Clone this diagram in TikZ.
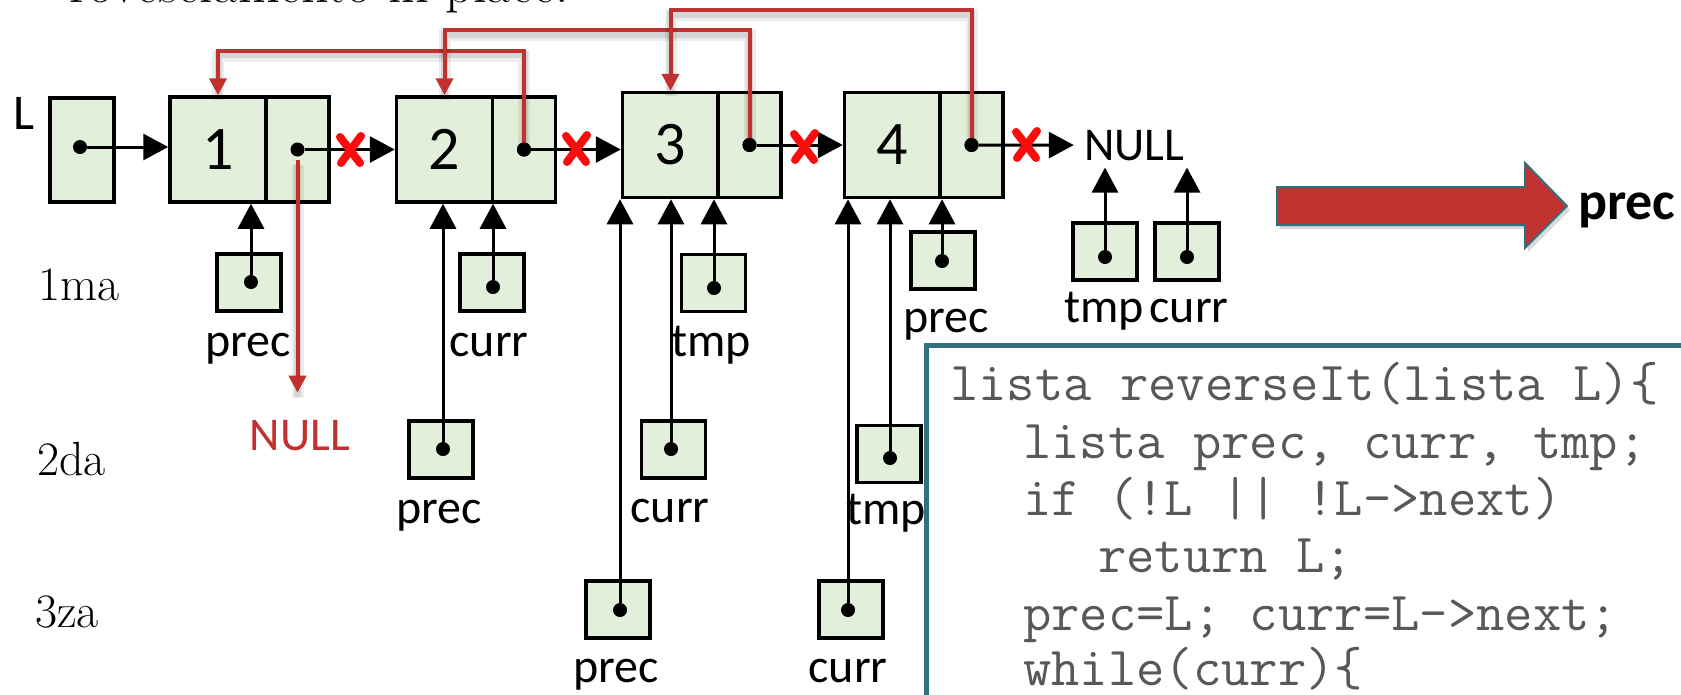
\documentclass[tikz,border=0pt]{standalone}
\usepackage{fontspec}
\newfontfamily\calibri{Carlito}
\usetikzlibrary{arrows.meta,shadows}
\definecolor{cellgreen}{RGB}{226,239,218}
\definecolor{linkred}{RGB}{193,49,48}
\definecolor{crossred}{RGB}{250,12,12}
\definecolor{boxteal}{RGB}{49,112,126}
\definecolor{codegray}{RGB}{88,88,88}
\tikzset{
  valbox/.style={draw, line width=3.5pt, fill=cellgreen, minimum width=96pt, minimum height=105pt,
    inner sep=0pt, font=\calibri\fontsize{62}{62}\selectfont},
  ptrbox/.style={draw, line width=3.5pt, fill=cellgreen, minimum width=63pt, minimum height=105pt, inner sep=0pt},
  varbox/.style={draw, line width=3.5pt, fill=cellgreen, minimum width=64pt, minimum height=57pt, inner sep=0pt},
  dot/.style={circle, fill=black, inner sep=0pt, minimum size=14pt},
  ptr/.style={line width=3pt, -{Triangle[length=25pt,width=26pt]}},
  linkshade/.style={preaction={draw=black, draw opacity=0.07, line width=12pt, -,
      transform canvas={yshift=-5pt}},
    preaction={draw=black, draw opacity=0.10, line width=7pt, -,
      transform canvas={yshift=-4pt}}},
  link/.style={linkshade, draw=linkred, line width=4pt, -{Triangle[length=17pt,width=17pt]}},
  crossline/.style={draw=crossred, line width=8pt, line cap=round},
  lbl/.style={font=\calibri\fontsize{48}{48}\selectfont, inner sep=0pt, anchor=base},
  rowlbl/.style={font=\fontsize{48}{48}\selectfont, inner sep=0pt, anchor=base west},
  code/.style={font=\ttfamily\fontsize{55}{55}\selectfont, text=codegray, inner sep=0pt, anchor=base west},
  xmark/.pic={
    \draw[crossline] (-10,-13) -- (10,13);
    \draw[crossline] (11,-14) -- (-9,13);
  },
}
\begin{document}
\begin{tikzpicture}[x=1pt,y=-1pt]
\useasboundingbox (0,0) rectangle (1681,694);

% heading line, mostly above the frame
\node[anchor=base west, inner sep=0pt, font=\fontsize{54}{54}\selectfont] (title) at (69,2) {rovesciamento in place.};

% head pointer
\node[font=\calibri\fontsize{50}{50}\selectfont, inner sep=0pt, anchor=base] (Llbl) at (24,129) {L};
\node[draw, line width=3.5pt, fill=cellgreen, minimum width=64pt, minimum height=104pt] (Lbox) at (82,150) {};
\node[dot] (Ld) at (80,147) {};

% list cells
\node[valbox] (n1v) at (218,149.5) {1};
\node[ptrbox] (n1p) at (297.5,149.5) {};
\node[valbox] (n2v) at (444.5,149.5) {2};
\node[ptrbox] (n2p) at (524,149.5) {};
\node[valbox] (n3v) at (670.5,145) {3};
\node[ptrbox] (n3p) at (749.5,145) {};
\node[valbox] (n4v) at (892.5,145) {4};
\node[ptrbox] (n4p) at (971.5,145) {};
\node[dot] (d1) at (n1p.center) {};
\node[dot] (d2) at (n2p.center) {};
\node[dot] (d3) at (n3p.center) {};
\node[dot] (d4) at (n4p.center) {};

\node[font=\calibri\fontsize{47}{47}\selectfont, inner xsep=10pt, inner ysep=7pt, anchor=base] (nullN) at (1134,160) {NULL};

% next links
\draw[ptr] (Ld) -- (Ld -| n1v.west);
\draw[ptr] (d1) -- (d1 -| n2v.west);
\draw[ptr] (d2) -- (d2 -| n3v.west);
\draw[ptr] (d3) -- (d3 -| n4v.west);
\draw[ptr] (d4) -- (nullN.west);

% row labels
\node[rowlbl] (r1) at (38,300) {1ma};
\node[rowlbl] (r2) at (37,475) {2da};
\node[rowlbl] (r3) at (35,627) {3za};

% first step
\node[varbox] (p1) at (249,282.5) {};
\node[dot] (p1d) at (251,282) {};
\node[lbl] (p1l) at (248,356) {prec};
\node[varbox] (c1) at (492,282.5) {};
\node[dot] (c1d) at (493,287) {};
\node[lbl] (c1l) at (489,356) {curr};
\node[varbox] (t1) at (713.5,283) {};
\node[dot] (t1d) at (714,288) {};
\node[lbl] (t1l) at (711,356) {tmp};
\draw[ptr] (p1d) -- (p1d |- n1v.south);
\draw[ptr] (c1d) -- (c1d |- n2v.south);
\draw[ptr] (t1d) -- (t1d |- n3v.south);

% second step
\node[varbox] (p2) at (441,449.5) {};
\node[dot] (p2d) at (443,449) {};
\node[lbl] (p2l) at (439,523) {prec};
\node[varbox] (c2) at (673.5,449.5) {};
\node[dot] (c2d) at (671,449) {};
\node[lbl] (c2l) at (670,522) {curr};
\node[varbox] (t2) at (889,454) {};
\node[dot] (t2d) at (890,458) {};
\node[lbl] (t2l) at (886,524) {tmp};
\draw[ptr] (p2d) -- (p2d |- n2v.south);
\draw[ptr] (c2d) -- (c2d |- n3v.south);
\draw[ptr] (t2d) -- (t2d |- n4v.south);

% third step
\node[varbox] (p3) at (618,609.5) {};
\node[dot] (p3d) at (620,610) {};
\node[lbl] (p3l) at (616,682) {prec};
\node[varbox] (c3) at (851,609.5) {};
\node[dot] (c3d) at (848,610) {};
\node[lbl] (c3l) at (848,682) {curr};
\draw[ptr] (p3d) -- (p3d |- n3v.south);
\draw[ptr] (c3d) -- (c3d |- n4v.south);

% final step
\node[varbox] (p4) at (943,260.5) {};
\node[dot] (p4d) at (942,261) {};
\node[lbl] (p4l) at (946,332) {prec};
\node[varbox] (t4) at (1105,251.5) {};
\node[dot] (t4d) at (1105,257) {};
\node[lbl] (t4l) at (1104,322) {tmp};
\node[varbox] (c4) at (1187,251.5) {};
\node[dot] (c4d) at (1187,257) {};
\node[lbl] (c4l) at (1189,322) {curr};
\draw[ptr] (p4d) -- (p4d |- n4v.south);
\draw[ptr] (t4d) -- (t4d |- nullN.south);
\draw[ptr] (c4d) -- (c4d |- nullN.south);

% reversed links
\node[font=\calibri\fontsize{47}{47}\selectfont, text=linkred, inner sep=0pt, anchor=base] (nullR) at (300,450) {NULL};
\draw[link] ([yshift=-10pt]d1.center) -- ([yshift=27pt]d1 |- nullR.north);
\draw[link] (d2.center) -- ++(0,-99) -| (n1v.north);
\draw[link] (d3.center) -- ++(0,-115) -| (n2v.north);
\draw[link] (d4.center) -- ++(0,-135) -| (n3v.north);
\node[dot] at (d2) {};
\node[dot] at (d3) {};
\node[dot] at (d4) {};

% broken links
\pic at (350,150) {xmark};
\pic at (576,149) {xmark};
\pic at (804,147) {xmark};
\pic at (1026,145) {xmark};

% result arrow
\draw[draw=boxteal, line width=2pt, fill=linkred,
      drop shadow={opacity=0.3, shadow xshift=3pt, shadow yshift=-4pt}]
  (1277,187) -- (1525,187) -- (1525,163) -- (1567,206) -- (1525,248) -- (1525,225) -- (1277,225) -- cycle;
\node[font=\calibri\bfseries\fontsize{54}{54}\selectfont, inner sep=0pt, anchor=base west] (res) at (1578,219) {prec};

% code listing
\draw[draw=boxteal, line width=5pt, fill=white] (926,345) rectangle (1730,740);
\node[code] (k1) at (950,400) {lista reverseIt(lista L)\{};
\node[code] (k2) at (1023,458) {lista prec, curr, tmp;};
\node[code] (k3) at (1023,515) {if (!L || !L->next)};
\node[code] (k4) at (1098,572) {return L;};
\node[code] (k5) at (1023,630) {prec=L; curr=L->next;};
\node[code] (k6) at (1023,685) {while(curr)\{};
\end{tikzpicture}
\end{document}
